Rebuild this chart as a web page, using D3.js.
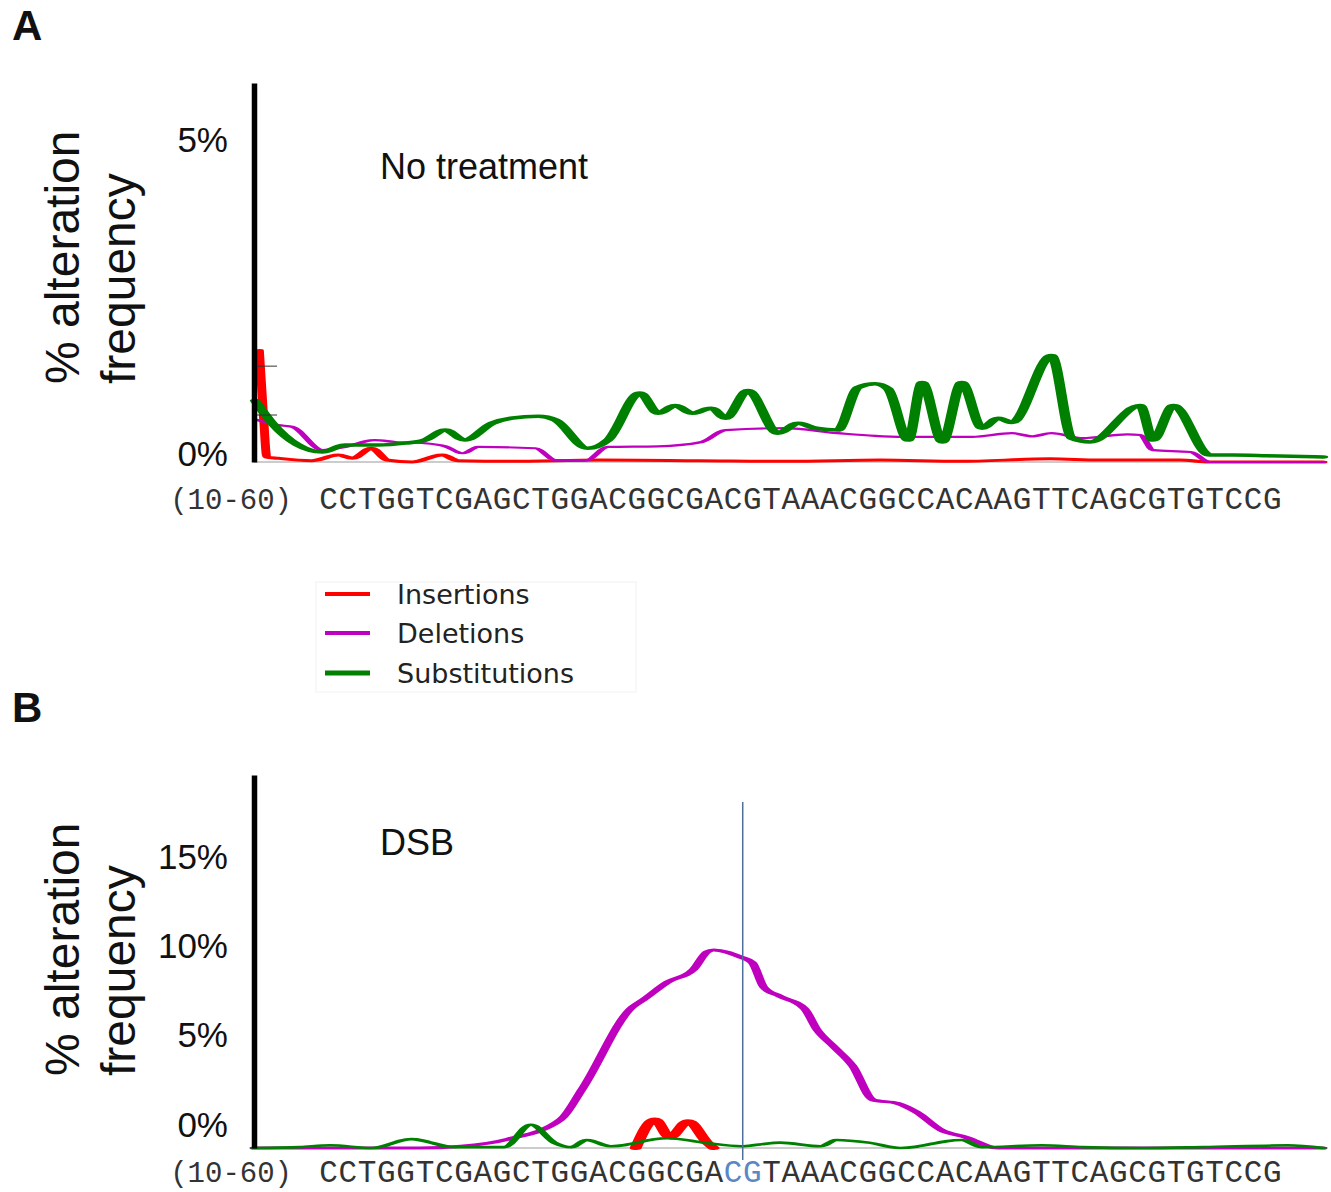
<!DOCTYPE html>
<html><head><meta charset="utf-8">
<script src="https://cdn.jsdelivr.net/npm/d3@7"></script>
<style>body{margin:0;background:#fff} svg{display:block}</style>
</head><body>
<script>
// ---------- data ----------
const sequence = "CCTGGTCGAGCTGGACGGCGACGTAAACGGCCACAAGTTCAGCGTGTCCG".split("");
const seqRangeLabel = "(10-60)";
const cutSiteIdx = [21, 22];           // "CG" highlighted in panel B
const seriesNames = ["Insertions", "Deletions", "Substitutions"];
const seriesColors = ["#ff0000", "#bf00bf", "#008000"];

// Panel A (No treatment): position (0-100 along read) , % value
const A_ins_pos = [0.5,0.9,1.2,2.2,5.4,7.9,9.2,11.0,12.5,14.8,17.6,19.1,24,32.4,41.7,50,58.6,66,74.5,79.1,86.6,89.4,100];
const A_ins_val = [1.78,0.7,0.08,0.06,0.02,0.11,0.06,0.22,0.03,0.0,0.11,0.02,0.01,0.03,0.02,0.01,0.03,0.01,0.05,0.03,0.03,0.0,0.0];
const A_del_pos = [0.3,2.2,3.6,6.4,8.5,11.3,13.2,16.0,17.9,19.5,21.0,26.3,28.2,31.0,33.1,37.8,41.9,44.1,49.7,54.6,60.9,67.2,70.9,72.8,74.6,77.5,81.7,82.9,84.1,87.6,89.4,100];
const A_del_val = [0.67,0.59,0.56,0.19,0.24,0.35,0.32,0.30,0.25,0.14,0.24,0.22,0.03,0.02,0.24,0.25,0.32,0.51,0.54,0.46,0.40,0.40,0.46,0.41,0.46,0.38,0.44,0.43,0.19,0.16,0.0,0.0];
const A_sub_pos = [0.1,1.7,6.4,8.5,11.6,14.1,16.0,17.9,19.7,22.3,24.1,26.6,28.2,31.2,33.1,36.1,37.8,39.4,41.0,42.8,44.1,46.2,49.0,50.9,52.5,54.6,56.5,58.1,59.3,61.2,62.5,64.4,66.2,68.1,69.6,70.9,74.6,76.5,78.2,82.9,84.1,86.0,89.4,91.6,94.8,100];
const A_sub_val = [0.98,0.62,0.16,0.27,0.27,0.30,0.35,0.51,0.35,0.62,0.70,0.73,0.67,0.22,0.35,1.10,0.78,0.90,0.78,0.86,0.70,1.14,0.46,0.62,0.54,0.51,1.19,1.25,1.17,0.35,1.27,0.32,1.27,0.54,0.70,0.63,1.70,0.38,0.32,0.90,0.35,0.90,0.11,0.11,0.10,0.08];

// Panel B (DSB)
const B_ins_pos = [35.7,37.5,38.9,40.6,42.4,43.0];
const B_ins_val = [0,1.6,0.6,1.5,0.3,0];
const B_del_pos = [0,15.5,19.4,23.8,28.7,30.7,35.4,36.4,38.7,41.1,42.4,43.0,45.5,46.6,47.7,49.2,51.5,52.7,54.2,56.0,57.9,60.2,62.0,64.3,66.6,69.6,100];
const B_del_val = [0,0,0.1,0.5,1.6,3.3,7.9,8.3,9.3,10.0,11.0,11.1,10.7,10.4,9.0,8.5,7.8,6.6,5.7,4.6,2.7,2.5,2.0,1.0,0.6,0,0];
const B_sub_pos = [0,4.3,7.1,11.0,14.7,18.7,23.4,25.9,28.1,29.7,31.1,33.4,38.7,42.1,45.6,47.3,49.2,53.0,54.5,57.5,60.5,66.2,68.1,73.7,77.5,83.2,88.8,96.7,100];
const B_sub_val = [0,0.05,0.15,0,0.5,0.05,0.05,1.3,0.3,0.05,0.45,0.1,0.55,0.3,0.1,0.2,0.3,0.1,0.45,0.3,0,0.45,0.05,0.15,0.05,0,0.05,0.15,0];

const A_ticks = [0, 5];
const B_ticks = [0, 5, 10, 15];
const A_stubTicks = [0.75, 1.53];

// ---------- drawing ----------
const W = 1331, H = 1192;
const svg = d3.select("body").append("svg").attr("width", W).attr("height", H)
  .style("font-family", "'Liberation Sans', Arial, sans-serif");

const defs = svg.append("defs");
defs.append("filter").attr("id", "soft").attr("filterUnits", "userSpaceOnUse")
  .attr("x", 0).attr("y", 0).attr("width", W).attr("height", H)
  .append("feGaussianBlur").attr("stdDeviation", 0.6);

const X0 = 254, X1 = 1323, S = 3;   // horizontal stretch mimics the stretched figure
const x = d3.scaleLinear().domain([0, 100]).range([0, (X1 - X0) / S]);
const seqX = d3.scaleBand().domain(d3.range(sequence.length)).range([319, 1282]);

function zip(p, v) { return p.map((d, i) => [d, v[i]]); }

function panel(cfg) {
  const y = cfg.y;
  // baseline
  svg.append("line").attr("x1", X0).attr("x2", X1).attr("y1", y(0)).attr("y2", y(0))
    .attr("stroke", "#999").attr("stroke-width", 1);

  const outer = svg.append("g").attr("filter", "url(#soft)");
  const g = outer.append("g").attr("transform", `translate(${X0},0) scale(${S},1)`);
  const line = d3.line().x(d => x(d[0])).y(d => y(d[1])).curve(d3.curveMonotoneX);
  cfg.series.forEach(s => {
    g.append("path").datum(zip(s.pos, s.val)).attr("d", line)
      .attr("fill", "none").attr("stroke", s.color).attr("stroke-width", s.w)
      .attr("stroke-linejoin", "round").attr("stroke-linecap", "round");
  });

  // axis
  const ax = svg.append("g").attr("transform", `translate(${X0},0)`)
    .call(d3.axisLeft(y).tickValues(cfg.ticks).tickSize(0).tickPadding(26).tickFormat(d => d + "%"));
  ax.select(".domain").attr("stroke", "#000").attr("stroke-width", 5.5);
  ax.selectAll("text").attr("font-size", 35).attr("font-family", "'Liberation Sans', Arial, sans-serif")
    .attr("fill", "#111").attr("dy", cfg.labelDy);

  // y title
  [["% alteration", 79], ["frequency", 135]].forEach(([t, bx]) => {
    svg.append("text").attr("transform", `translate(${bx},${cfg.titleStart}) rotate(-90)`)
      .attr("font-size", 48).attr("fill", "#111").text(t);
  });

  // panel letter
  svg.append("text").attr("x", 12).attr("y", cfg.letterY).attr("font-size", 42)
    .attr("font-weight", "bold").attr("fill", "#111").text(cfg.letter);

  // condition label
  svg.append("text").attr("x", 380).attr("y", cfg.condY).attr("font-size", 36)
    .attr("fill", "#111").text(cfg.cond);

  // sequence
  svg.append("text").attr("x", 292).attr("y", cfg.seqY).attr("text-anchor", "end")
    .attr("font-family", "'Liberation Mono', 'Courier New', monospace").attr("font-size", 29)
    .attr("fill", "#333").text(seqRangeLabel);
  svg.append("g").selectAll("text").data(sequence).join("text")
    .attr("x", (d, i) => seqX(i) + seqX.bandwidth() / 2).attr("y", cfg.seqY)
    .attr("text-anchor", "middle")
    .attr("font-family", "'Liberation Mono', 'Courier New', monospace").attr("font-size", 31)
    .attr("fill", (d, i) => cfg.highlight && cutSiteIdx.includes(i) ? "#5b87c5" : "#333")
    .text(d => d);
  return y;
}

const yA = d3.scaleLinear().domain([0, 6.05]).range([462, 83]);
panel({
  y: yA, ticks: A_ticks, labelDy: "3px", titleStart: 384, letter: "A", letterY: 40,
  cond: "No treatment", condY: 179, seqY: 509, highlight: false,
  series: [
    {pos: A_ins_pos, val: A_ins_val, color: seriesColors[0], w: 3},
    {pos: A_del_pos, val: A_del_val, color: seriesColors[1], w: 2.2},
    {pos: A_sub_pos, val: A_sub_val, color: seriesColors[2], w: 3.5}
  ]
});
// small stub ticks on panel A axis
svg.append("g").selectAll("line").data(A_stubTicks).join("line")
  .attr("x1", 257).attr("x2", 277).attr("y1", d => yA(d)).attr("y2", d => yA(d))
  .attr("stroke", "#333").attr("stroke-width", 1);

const yB = d3.scaleLinear().domain([0, 20.9]).range([1148, 775]);
panel({
  y: yB, ticks: B_ticks, labelDy: "-12px", titleStart: 1076, letter: "B", letterY: 722,
  cond: "DSB", condY: 855, seqY: 1182, highlight: true,
  series: [
    {pos: B_ins_pos, val: B_ins_val, color: seriesColors[0], w: 4},
    {pos: B_del_pos, val: B_del_val, color: seriesColors[1], w: 3},
    {pos: B_sub_pos, val: B_sub_val, color: seriesColors[2], w: 2.6}
  ]
});
// cut-site line
svg.append("line").attr("x1", seqX(22)).attr("x2", seqX(22)).attr("y1", 802).attr("y2", 1160)
  .attr("stroke", "#4e6f9a").attr("stroke-width", 1.5);

// legend
const leg = svg.append("g");
leg.append("rect").attr("x", 316).attr("y", 582).attr("width", 320).attr("height", 110)
  .attr("fill", "none").attr("stroke", "#f2f2f2");
const legY = [594, 633, 673];
seriesNames.forEach((n, i) => {
  leg.append("line").attr("x1", 325).attr("x2", 370).attr("y1", legY[i]).attr("y2", legY[i])
    .attr("stroke", seriesColors[i]).attr("stroke-width", i === 2 ? 5 : 4);
  leg.append("text").attr("x", 397).attr("y", legY[i] + 10)
    .attr("font-family", "'DejaVu Sans', sans-serif").attr("font-size", 27).attr("fill", "#222").text(n);
});
</script>
</body></html>
